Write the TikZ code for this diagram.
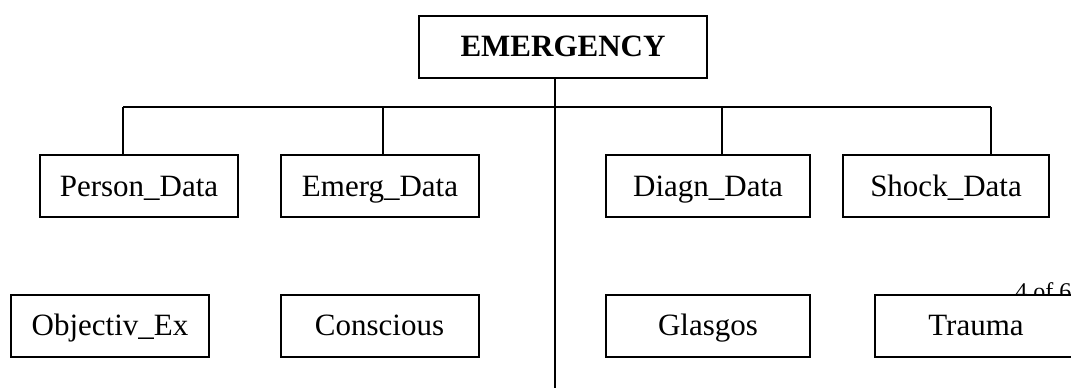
\documentclass[tikz,border=0pt]{standalone}
\usepackage{fontspec}
\setmainfont{Liberation Serif}
\usepackage{tikz}

\begin{document}
\begin{tikzpicture}[x=0.5pt,y=-0.5pt,
    box/.style={draw,fill=white,line width=1pt,minimum width=99pt,minimum height=31pt,
      inner sep=0pt,text height=13pt,text depth=3pt,font=\fontsize{15.5}{18}\selectfont}]
  \useasboundingbox (0,0) rectangle (1071,387);
  % page number, partly under the box
  \node[anchor=base west,inner sep=0pt,font=\fontsize{12}{14}\selectfont] (pagenum) at (1015,299) {4 of 6};
  \node[box,minimum width=144pt,font=\fontsize{15.5}{18}\selectfont\bfseries] (emergency) at (563,46.5) {EMERGENCY};
  % first row
  \node[box] (person) at (139,186) {Person\_Data};
  \node[box] (emerg) at (380,186) {Emerg\_Data};
  \node[box,minimum width=102pt] (diagn) at (708,186) {Diagn\_Data};
  \node[box,minimum width=103pt] (shock) at (946,186) {Shock\_Data};
  % second row
  \node[box] (objectiv) at (110,325.5) {Objectiv\_Ex};
  \node[box] (conscious) at (379.5,325.5) {Conscious};
  \node[box,minimum width=102pt] (glasgos) at (708,325.5) {Glasgos};
  \node[box,minimum width=101pt] (trauma) at (976,325.5) {Trauma};
  % connectors
  \coordinate (busL) at (123,107);
  \coordinate (busR) at (991,107);
  \coordinate (trunk) at (555,390);
  \draw[line width=0.8pt] (busL) -- (busR);
  \draw[line width=0.8pt] (emergency.south -| trunk) -- (trunk);
  \draw[line width=0.8pt] (busL) -- (person.north -| busL);
  \draw[line width=0.8pt] (emerg.north -| 383,0) -- (383,107);
  \draw[line width=0.8pt] (diagn.north -| 722,0) -- (722,107);
  \draw[line width=0.8pt] (busR) -- (shock.north -| busR);
\end{tikzpicture}
\end{document}
